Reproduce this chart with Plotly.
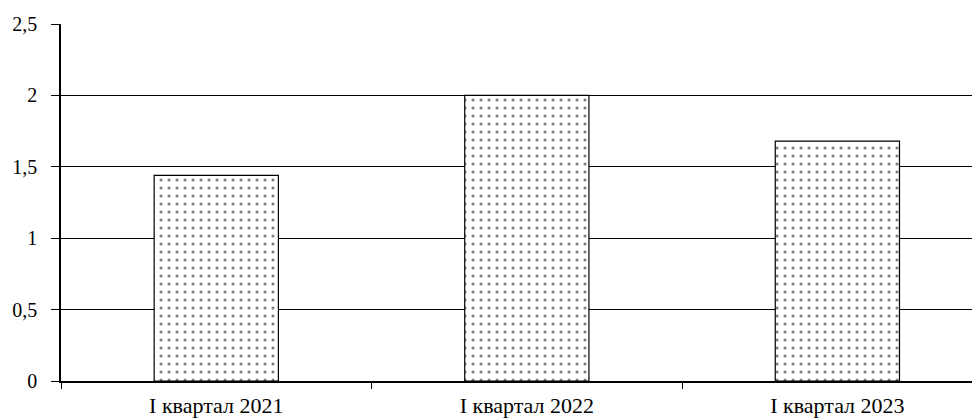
import plotly.graph_objects as go

categories = ["I квартал 2021", "I квартал 2022", "I квартал 2023"]
values = [1.44, 2.0, 1.68]
y_ticks = [0, 0.5, 1, 1.5, 2, 2.5]

FONT = "Times New Roman, Liberation Serif, DejaVu Serif, serif"

fig = go.Figure(go.Bar(
    x=categories, y=values, width=0.4,
    marker=dict(color="white", line=dict(color="black", width=1.2),
                pattern=dict(shape=".", size=8, solidity=0.12, fgcolor="black", bgcolor="white")),
))

fig.update_layout(
    width=980, height=420,
    margin=dict(l=53, r=0, t=16, b=47),
    paper_bgcolor="white", plot_bgcolor="white",
    separators=", ",
    font=dict(family=FONT, size=20, color="black"),
    showlegend=False,
)
fig.update_xaxes(
    type="category", range=[-0.5, 2.485], tickson="boundaries",
    ticks="outside", ticklen=6, tickcolor="black", tickwidth=1,
    showline=True, linecolor="black", linewidth=1.5, showgrid=False,
    ticklabelstandoff=4,
    tickfont=dict(family=FONT, size=22, color="black"),
)
fig.update_yaxes(
    range=[0, 2.5], tickvals=y_ticks, ticks="outside", ticklen=8,
    tickcolor="black", tickwidth=1, ticklabelstandoff=10,
    showline=True, linecolor="black", linewidth=1.5,
    showgrid=True, gridcolor="black", gridwidth=1, zeroline=False,
    tickfont=dict(family=FONT, size=20, color="black"),
)
fig.write_html("out.html")
